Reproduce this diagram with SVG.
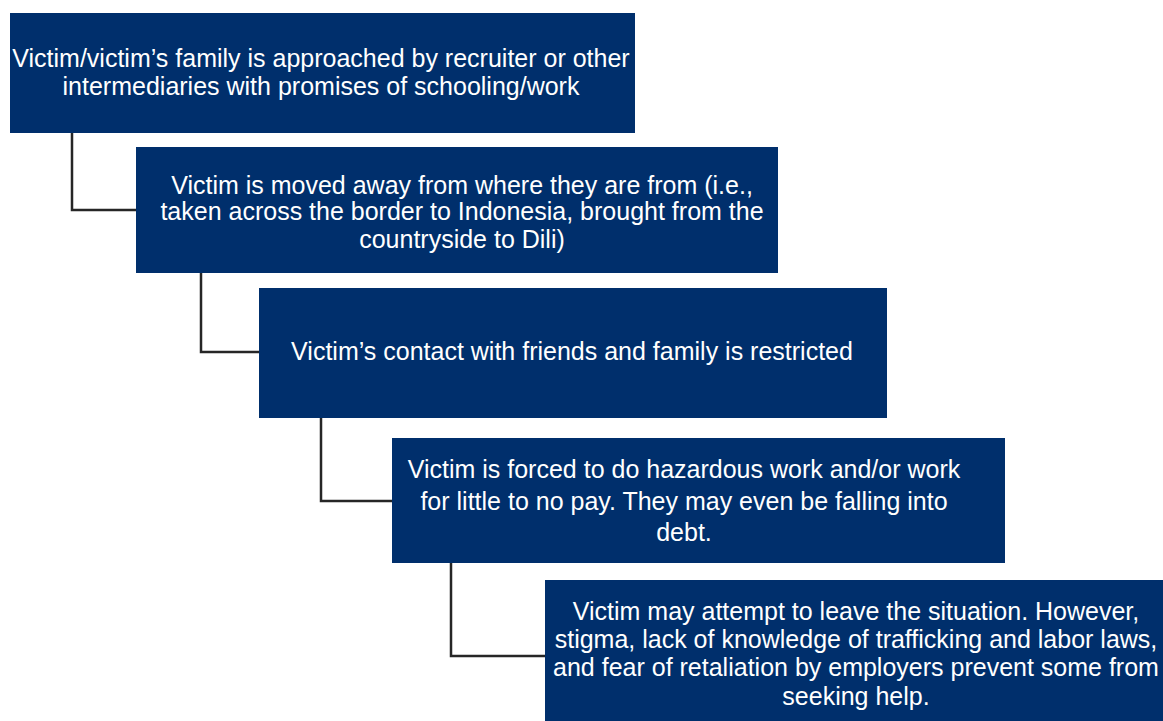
<svg xmlns="http://www.w3.org/2000/svg" width="1163" height="721" viewBox="0 0 1163 721">
<style>
.box{fill:#002F6C;}
.t{font-family:"Liberation Sans",Arial,sans-serif;font-size:25px;fill:#ffffff;text-anchor:middle;}
.c{fill:none;stroke:#262626;stroke-width:2.5;}
</style>
<rect x="0" y="0" width="1163" height="721" fill="#ffffff"/>
<g id="connectors">
<path class="c" d="M72 133 V210 H136"/>
<path class="c" d="M201 273 V352 H259"/>
<path class="c" d="M321 418 V501 H392"/>
<path class="c" d="M451 563 V656 H545"/>
</g>
<g id="n1">
<rect class="box" x="10" y="13" width="625" height="120"/>
<text class="t" x="321" y="67">Victim/victim’s family is approached by recruiter or other</text>
<text class="t" x="321" y="95">intermediaries with promises of schooling/work</text>
</g>
<g id="n2">
<rect class="box" x="136" y="147" width="642" height="126"/>
<text class="t" x="462" y="194">Victim is moved away from where they are from (i.e.,</text>
<text class="t" x="462" y="220">taken across the border to Indonesia, brought from the</text>
<text class="t" x="462" y="248">countryside to Dili)</text>
</g>
<g id="n3">
<rect class="box" x="259" y="288" width="628" height="130"/>
<text class="t" x="572" y="360">Victim’s contact with friends and family is restricted</text>
</g>
<g id="n4">
<rect class="box" x="392" y="438" width="613" height="125"/>
<text class="t" x="684" y="478">Victim is forced to do hazardous work and/or work</text>
<text class="t" x="684" y="510">for little to no pay. They may even be falling into</text>
<text class="t" x="684" y="541">debt.</text>
</g>
<g id="n5">
<rect class="box" x="545" y="580" width="620" height="141"/>
<text class="t" x="856" y="620">Victim may attempt to leave the situation. However,</text>
<text class="t" x="856" y="648">stigma, lack of knowledge of trafficking and labor laws,</text>
<text class="t" x="856" y="676">and fear of retaliation by employers prevent some from</text>
<text class="t" x="856" y="705">seeking help.</text>
</g>
</svg>
